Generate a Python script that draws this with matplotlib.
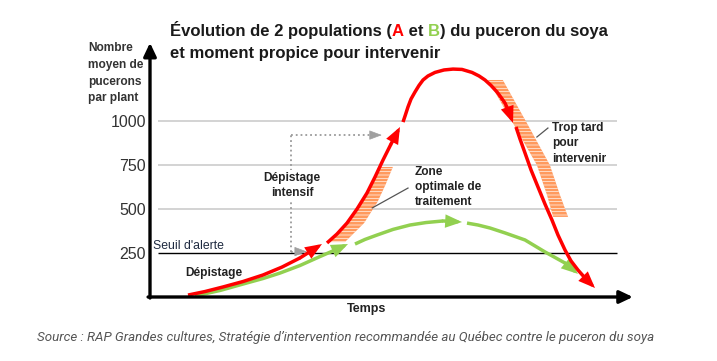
import matplotlib
matplotlib.use("Agg")
import matplotlib.pyplot as plt

plt.rcParams['font.family'] = ['Liberation Sans', 'DejaVu Sans']
plt.rcParams['hatch.linewidth'] = 0.45

# ---------------- data ----------------
# population A (red), drawn as four arrow segments: (time, aphids per plant)
a1_t = [7.92, 11.46, 15.21, 19.38, 23.54, 27.5, 31.25, 35.83]
a1_v = [11, 31, 57, 88, 125, 170, 222, 301]
a2_t = [36.88, 38.96, 41.04, 43.13, 45.21, 46.88, 48.54, 50.21, 52.08]
a2_v = [307, 358, 420, 500, 591, 682, 778, 869, 966]
a3_t = [52.71, 53.13, 53.75, 54.38, 55.21, 56.04, 56.88, 57.92, 59.38, 61.25, 63.13,
        65.0, 67.08, 68.54, 69.79, 71.04, 72.29, 73.13, 73.96, 74.79, 75.63]
a3_v = [994, 1028, 1080, 1125, 1165, 1202, 1233, 1256, 1276, 1290, 1295,
        1293, 1276, 1256, 1233, 1202, 1165, 1134, 1102, 1051, 989]
a4_t = [76.25, 77.08, 78.13, 79.38, 80.83, 82.29, 83.75, 85.0, 86.46, 87.71, 89.17, 90.83, 92.71]
a4_v = [966, 898, 818, 722, 625, 528, 437, 352, 267, 205, 153, 102, 51]

# population B (green), three arrow segments
b1_t = [9.38, 14.58, 20.21, 23.54, 27.08, 31.25, 35.42, 38.54, 41.25]
b1_v = [6, 37, 80, 105, 136, 179, 230, 267, 301]
b2_t = [42.71, 44.79, 47.29, 50.63, 54.17, 57.5, 61.04, 65.0]
b2_v = [301, 327, 352, 384, 409, 423, 432, 426]
b3_t = [66.04, 68.33, 70.83, 73.96, 78.13, 82.29, 86.46, 89.17]
b3_v = [420, 409, 392, 364, 324, 256, 193, 131]

# hatched zones
zone_opt_v = [312, 420, 540, 640, 739]
zone_opt_left = [37.0, 41.04, 44.0, 46.1, 47.8]
zone_opt_right = [40.6, 44.6, 47.4, 49.1, 50.6]
zone_late_v = [455, 580, 750, 989, 1233]
zone_late_left = [84.0, 82.7, 80.6, 75.6, 70.4]
zone_late_right = [87.1, 85.4, 83.3, 78.5, 73.5]

grid_levels = [500, 750, 1000]
threshold = 250
yticks = [250, 500, 750, 1000]
ytick_labels = ['250', '500', '750', '1000']

# dotted "dépistage intensif" path
dot_t = [32.7, 29.4, 29.4, 48.3]
dot_v = [258, 258, 920, 920]

RED = '#ff0000'
GREEN = '#92d050'
ORANGE = '#ff9a5e'
TXT = '#222222'

fig = plt.figure(figsize=(7.17, 3.61), dpi=100)
ax = fig.add_axes([150 / 717, 64 / 361, 480 / 717, 255.2 / 361])
ax.set_xlim(0, 100)
ax.set_ylim(0, 1450)
for s in ax.spines.values():
    s.set_visible(False)
ax.set_xticks([])
ax.set_yticks(yticks)
ax.set_yticklabels(ytick_labels)
ax.tick_params(axis='y', length=0, pad=3, labelsize=11.5, labelcolor='#333333')

# grid lines
ax.hlines(grid_levels, 1.7, 97.3, color='#c8c8c8', lw=1.1, zorder=1)
ax.hlines([threshold], 1.7, 97.3, color='black', lw=1.0, zorder=1)

# hatched zones
for v, l, r in [(zone_opt_v, zone_opt_left, zone_opt_right),
                (zone_late_v, zone_late_left, zone_late_right)]:
    ax.fill_betweenx(v, l, r, facecolor=ORANGE, edgecolor='white',
                     hatch='-----', linewidth=0, zorder=2)

# dotted path with arrows
ax.plot(dot_t[1:3], dot_v[1:3], ls=':', color='#9a9a9a', lw=1.3, zorder=2)
ax.plot([dot_t[2], dot_t[3] - 1.8], [dot_v[2], dot_v[3]], ls=':', color='#9a9a9a', lw=1.3, zorder=2)
ax.plot([dot_t[1], dot_t[0] - 1.8], [dot_v[1], dot_v[0]], ls=':', color='#9a9a9a', lw=1.3, zorder=2)
for (x0, y0), (x1, y1) in [((dot_t[3] - 2.2, dot_v[3]), (dot_t[3], dot_v[3])),
                           ((dot_t[0] - 2.2, dot_v[0]), (dot_t[0], dot_v[0]))]:
    ax.annotate('', xy=(x1, y1), xytext=(x0, y0),
                arrowprops=dict(arrowstyle='-|>,head_length=0.8,head_width=0.3',
                                color='#a0a0a0', lw=0.5, shrinkA=0, shrinkB=0,
                                mutation_scale=10), zorder=3)


def arrow_curve(t, v, color, z):
    ax.plot(t[:-1], v[:-1], color=color, lw=2.5, solid_capstyle='butt',
            solid_joinstyle='round', zorder=z)
    ax.annotate('', xy=(t[-1], v[-1]), xytext=(t[-2], v[-2]),
                arrowprops=dict(arrowstyle='-|>,head_length=0.75,head_width=0.3',
                                color=color, lw=2.5, shrinkA=0, shrinkB=0,
                                mutation_scale=10, joinstyle='miter'), zorder=z)


for t, v in [(b1_t, b1_v), (b2_t, b2_v), (b3_t, b3_v)]:
    arrow_curve(t, v, GREEN, 4)
for t, v in [(a1_t, a1_v), (a2_t, a2_v), (a3_t, a3_v), (a4_t, a4_v)]:
    arrow_curve(t, v, RED, 5)

# axes arrows
ax.annotate('', xy=(0, 0.996), xytext=(0, -0.004), xycoords='axes fraction',
            arrowprops=dict(arrowstyle='-|>,head_length=0.8,head_width=0.38',
                            color='black', lw=2.4, shrinkA=0, shrinkB=0,
                            mutation_scale=10), annotation_clip=False, zorder=6)
ax.annotate('', xy=(1.006, 0), xytext=(-0.004, 0), xycoords='axes fraction',
            arrowprops=dict(arrowstyle='-|>,head_length=0.8,head_width=0.38',
                            color='black', lw=2.4, shrinkA=0, shrinkB=0,
                            mutation_scale=10), annotation_clip=False, zorder=6)

# leader lines
ax.plot([46.3, 53.75], [506, 619], color='#555555', lw=0.9, zorder=3)
ax.plot([80.6, 82.9], [909, 960], color='#555555', lw=0.9, zorder=3)

# annotation texts
ax.text(0.6, 290, "Seuil d'alerte", fontsize=8.8, color='#1e2a40', ha='left', va='center')
ax.text(7.3, 136, "Dépistage", fontsize=8.6, fontweight='bold', color=TXT, ha='left', va='center')
for txt, v in [("Dépistage", 676), ("intensif", 591)]:
    ax.text(29.6, v, txt, fontsize=8.6, fontweight='bold', color=TXT, ha='center', va='center',
            bbox=dict(facecolor='white', edgecolor='none', pad=1.2), zorder=3)
for txt, v in [("Zone", 710), ("optimale de", 625), ("traitement", 540)]:
    ax.text(55.2, v, txt, fontsize=8.6, fontweight='bold', color=TXT, ha='left', va='center')
for txt, v in [("Trop tard", 960), ("pour", 875), ("intervenir", 784)]:
    ax.text(83.75, v, txt, fontsize=8.6, fontweight='bold', color=TXT, ha='left', va='center')
ax.text(45.2, -68, "Temps", fontsize=9, fontweight='bold', color=TXT, ha='center', va='center',
        clip_on=False)

# y-axis label
for txt, py in [("Nombre", 48), ("moyen de", 65), ("pucerons", 81.5), ("par plant", 97.5)]:
    fig.text(88 / 717, 1 - py / 361, txt, fontsize=8.6, fontweight='bold', color='#333333',
             ha='left', va='center')

# title with coloured letters
title_kw = dict(fontsize=12, fontweight='bold', va='bottom', ha='left')
t0 = fig.text(170 / 717, 1 - 39 / 361, "Évolution de 2 populations (", color='#1a1a1a', **title_kw)
prev = t0
for piece, col in [("A", RED), (" et ", '#1a1a1a'), ("B", GREEN), (") du puceron du soya", '#1a1a1a')]:
    prev = ax.annotate(piece, xy=(1, 0), xycoords=prev, color=col, annotation_clip=False, **title_kw)
fig.text(170 / 717, 1 - 61 / 361, "et moment propice pour intervenir", color='#1a1a1a', **title_kw)

# source
fig.text(37 / 717, 1 - 337 / 361,
         "Source : RAP Grandes cultures, Stratégie d’intervention recommandée au Québec contre le puceron du soya",
         fontsize=9.6, fontstyle='italic', family=['Roboto', 'DejaVu Sans'], color='#555555',
         ha='left', va='center')

fig.savefig('out.png', dpi=100)
